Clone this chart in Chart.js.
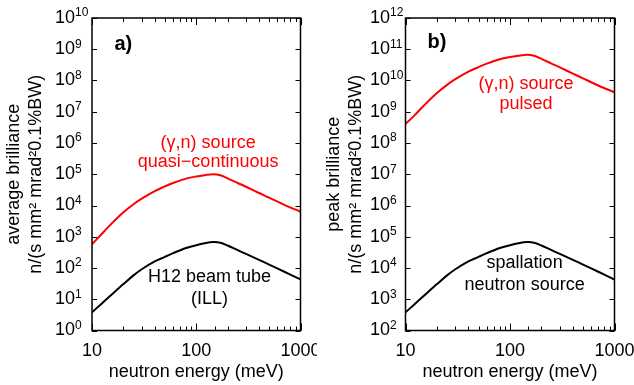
<!DOCTYPE html>
<html>
<head>
<meta charset="utf-8">
<script src="https://cdn.jsdelivr.net/npm/chart.js@4.4.1/dist/chart.umd.min.js"></script>
<style>
  body { margin: 0; background: #fff; }
  #wrap { position: relative; width: 634px; height: 385px; }
  canvas { position: absolute; top: 0; }
  #chart-a { left: 0; }
  #chart-b { left: 317px; }
</style>
</head>
<body>
<div id="wrap">
  <canvas id="chart-a" width="317" height="385"></canvas>
  <canvas id="chart-b" width="317" height="385"></canvas>
</div>
<script>
// neutron energy (meV)
const energies = [10, 12, 15, 20, 25, 30, 40, 50, 60, 80, 100, 120, 145, 170, 200, 250, 300, 400, 500, 700, 1000];

// a) average brilliance
const gammaAverage = [575, 1100, 2400, 6030, 11000, 16600, 28800, 40700, 52500, 72400, 85100, 93300, 100000, 93300, 74100, 52500, 39800, 25100, 17800, 10500, 6310];
const illAverage = [3.8, 6.6, 12.9, 30.5, 58, 91, 162, 226, 299, 437, 537, 617, 676, 646, 525, 372, 282, 182, 129, 76, 43];

// b) peak brilliance
const gammaPeak = [4.1e8, 7.24e8, 1.58e9, 3.98e9, 7.24e9, 1.1e10, 1.91e10, 2.69e10, 3.47e10, 4.79e10, 5.62e10, 6.17e10, 6.61e10, 6.17e10, 4.9e10, 3.47e10, 2.63e10, 1.66e10, 1.17e10, 6.92e9, 4.17e9];
const spallationPeak = [380, 660, 1290, 3050, 5800, 9100, 16200, 22600, 29900, 43700, 53700, 61700, 67600, 64600, 52500, 37200, 28200, 18200, 12900, 7600, 4270];

const xTickLabels = ['10', '100', '1000'];
const unitsLine = 'n/(s mm² mrad²0.1%BW)';

const FONT = '"Liberation Sans", Arial, sans-serif';
Chart.defaults.font.family = FONT;
Chart.defaults.color = '#000';

function isDecade(v) {
    const l = Math.log10(v);
    return Math.abs(l - Math.round(l)) < 1e-9;
}

function pairs(values) {
    return energies.map((e, i) => ({ x: e, y: values[i] }));
}

// frame, inward ticks on all four sides, 10^n labels and the text notes
const frameAndTicks = {
    id: 'frameAndTicks',
    afterDraw(chart, args, opts) {
        const { ctx, chartArea: a, scales: { x, y } } = chart;
        ctx.save();
        ctx.strokeStyle = '#000';
        ctx.lineWidth = 1;
        x.ticks.forEach(t => {
            const px = Math.round(x.getPixelForValue(t.value)) + 0.5;
            const len = isDecade(t.value) ? 7 : 4;
            ctx.beginPath();
            ctx.moveTo(px, a.bottom); ctx.lineTo(px, a.bottom - len);
            ctx.moveTo(px, a.top); ctx.lineTo(px, a.top + len);
            ctx.stroke();
        });
        y.ticks.forEach(t => {
            const py = Math.round(y.getPixelForValue(t.value)) + 0.5;
            ctx.beginPath();
            ctx.moveTo(a.left, py); ctx.lineTo(a.left + 5, py);
            ctx.moveTo(a.right, py); ctx.lineTo(a.right - 5, py);
            ctx.stroke();
        });
        ctx.lineWidth = 1.5;
        ctx.strokeRect(a.left, a.top, a.right - a.left, a.bottom - a.top);

        ctx.fillStyle = '#000';
        ctx.textBaseline = 'middle';
        ctx.textAlign = 'left';
        y.ticks.forEach(t => {
            const py = y.getPixelForValue(t.value);
            const lx = a.left - opts.labelOffset;
            ctx.font = '18px ' + FONT;
            ctx.fillText('10', lx, py);
            const w = ctx.measureText('10').width;
            ctx.font = '12px ' + FONT;
            ctx.fillText(String(Math.round(Math.log10(t.value))), lx + w, py - 5);
        });

        ctx.textAlign = 'center';
        opts.notes.forEach(n => {
            ctx.font = (n.bold ? 'bold 20px ' : '18px ') + FONT;
            ctx.fillStyle = n.color;
            ctx.fillText(n.text, x.getPixelForValue(n.x), y.getPixelForValue(n.y));
        });
        ctx.restore();
    }
};

function makeChart(id, cfg) {
    return new Chart(document.getElementById(id), {
        type: 'line',
        data: {
            datasets: [
                { data: pairs(cfg.red), borderColor: '#ff0000' },
                { data: pairs(cfg.black), borderColor: '#000000' }
            ]
        },
        options: {
            responsive: false,
            animation: false,
            layout: { padding: { top: 18, right: cfg.padRight, bottom: 0, left: 0 } },
            elements: {
                point: { radius: 0 },
                line: { borderWidth: 2, tension: 0.35, fill: false }
            },
            plugins: {
                legend: { display: false },
                tooltip: { enabled: false },
                frameAndTicks: { notes: cfg.notes, labelOffset: cfg.labelOffset }
            },
            scales: {
                x: {
                    type: 'logarithmic',
                    min: 10,
                    max: 1000,
                    grid: { display: false, drawTicks: false },
                    border: { display: false },
                    ticks: {
                        autoSkip: false,
                        maxRotation: 0,
                        padding: 10,
                        font: { size: 18 },
                        callback: v => xTickLabels.includes(String(v)) ? String(v) : ''
                    },
                    title: {
                        display: true,
                        text: 'neutron energy (meV)',
                        font: { size: 18 },
                        padding: { top: 0, bottom: 2 }
                    },
                    afterFit: s => { s.height = 54.5; s.paddingLeft = 0; s.paddingRight = 0; }
                },
                y: {
                    type: 'logarithmic',
                    min: cfg.yMin,
                    max: cfg.yMax,
                    grid: { display: false, drawTicks: false },
                    border: { display: false },
                    ticks: { display: false },
                    afterBuildTicks: s => {
                        const ticks = [];
                        for (let e = Math.log10(cfg.yMin); e <= Math.log10(cfg.yMax); e++) {
                            ticks.push({ value: Math.pow(10, e) });
                        }
                        s.ticks = ticks;
                    },
                    title: {
                        display: true,
                        text: [cfg.yTitle, unitsLine],
                        font: { size: 18, lineHeight: 22 / 18 },
                        padding: { top: cfg.titlePad, bottom: 0 }
                    },
                    afterFit: s => { s.width = cfg.yWidth; }
                }
            }
        },
        plugins: [frameAndTicks]
    });
}

makeChart('chart-a', {
    red: gammaAverage,
    black: illAverage,
    yMin: 1,
    yMax: 1e10,
    yTitle: 'average brilliance',
    yWidth: 92,
    padRight: 16.5,
    titlePad: 3,
    labelOffset: 37,
    notes: [
        { text: 'a)', x: 20, y: 1.4e9, color: '#000', bold: true },
        { text: '(γ,n) source', x: 130, y: 1.0e6, color: '#ff0000' },
        { text: 'quasi−continuous', x: 130, y: 2.4e5, color: '#ff0000' },
        { text: 'H12 beam tube', x: 134, y: 51, color: '#000' },
        { text: '(ILL)', x: 134, y: 10.5, color: '#000' }
    ]
});

makeChart('chart-b', {
    red: gammaPeak,
    black: spallationPeak,
    yMin: 100,
    yMax: 1e12,
    yTitle: 'peak brilliance',
    yWidth: 88.5,
    padRight: 19.5,
    titlePad: 6,
    labelOffset: 35.5,
    notes: [
        { text: 'b)', x: 20, y: 1.6e11, color: '#000', bold: true },
        { text: '(γ,n) source', x: 142, y: 7.7e9, color: '#ff0000' },
        { text: 'pulsed', x: 142, y: 1.78e9, color: '#ff0000' },
        { text: 'spallation', x: 138, y: 1.45e4, color: '#000' },
        { text: 'neutron source', x: 138, y: 2860, color: '#000' }
    ]
});
</script>
</body>
</html>
